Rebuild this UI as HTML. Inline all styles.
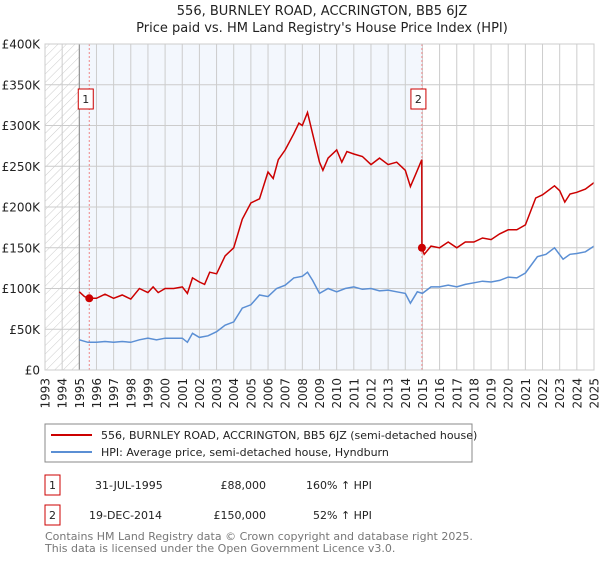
<!DOCTYPE html>
<html><head><meta charset="utf-8"><style>
body{margin:0;background:#fff;font-family:"Liberation Sans","DejaVu Sans",sans-serif;}
svg text{font-family:"DejaVu Sans","Liberation Sans",sans-serif;}
</style></head><body>
<svg id="c" width="600" height="560" xmlns="http://www.w3.org/2000/svg">
<defs><pattern id="h" width="6" height="6" patternUnits="userSpaceOnUse" patternTransform="rotate(45)"><line x1="0" y1="0" x2="0" y2="6" stroke="#ccc" stroke-width="1"/></pattern></defs>
<text x="322" y="15" text-anchor="middle" font-size="13" fill="#222">556, BURNLEY ROAD, ACCRINGTON, BB5 6JZ</text>
<text x="322" y="32" text-anchor="middle" font-size="13" fill="#222">Price paid vs. HM Land Registry's House Price Index (HPI)</text>
<g id="plot"></g>
<rect x="45" y="424" width="427" height="38" fill="#fff" stroke="#888"/>
<line x1="51" y1="435" x2="92" y2="435" stroke="#cc0000" stroke-width="2"/>
<text x="101" y="439" font-size="11" fill="#222">556, BURNLEY ROAD, ACCRINGTON, BB5 6JZ (semi-detached house)</text>
<line x1="51" y1="452" x2="92" y2="452" stroke="#5b8fd4" stroke-width="2"/>
<text x="101" y="456" font-size="11" fill="#222">HPI: Average price, semi-detached house, Hyndburn</text>
<g font-size="11" fill="#222">
<rect x="45" y="475" width="15" height="20" fill="#fff" stroke="#cc0000"/>
<text x="52.5" y="489" text-anchor="middle">1</text>
<text x="95" y="489">31-JUL-1995</text>
<text x="266" y="489" text-anchor="end">£88,000</text>
<text x="306" y="489">160% ↑ HPI</text>
<rect x="45" y="505" width="15" height="20" fill="#fff" stroke="#cc0000"/>
<text x="52.5" y="519" text-anchor="middle">2</text>
<text x="89" y="519">19-DEC-2014</text>
<text x="266" y="519" text-anchor="end">£150,000</text>
<text x="313" y="519">52% ↑ HPI</text>
</g>
<text x="45" y="540" font-size="11" fill="#777">Contains HM Land Registry data © Crown copyright and database right 2025.</text>
<text x="45" y="552" font-size="11" fill="#777">This data is licensed under the Open Government Licence v3.0.</text>
</svg>
<script>
const yTicks=[0,50,100,150,200,250,300,350,400];
const yTickLabels=["£0","£50K","£100K","£150K","£200K","£250K","£300K","£350K","£400K"];
const xYears=[1993,1994,1995,1996,1997,1998,1999,2000,2001,2002,2003,2004,2005,2006,2007,2008,2009,2010,2011,2012,2013,2014,2015,2016,2017,2018,2019,2020,2021,2022,2023,2024,2025];
const hpiDates=[1995.0,1995.5,1996,1996.5,1997,1997.5,1998,1998.5,1999,1999.5,2000,2000.5,2001,2001.3,2001.6,2002,2002.5,2003,2003.5,2004,2004.5,2005,2005.5,2006,2006.5,2007,2007.5,2008,2008.3,2008.6,2009,2009.5,2010,2010.5,2011,2011.5,2012,2012.5,2013,2013.5,2014,2014.3,2014.7,2015,2015.5,2016,2016.5,2017,2017.5,2018,2018.5,2019,2019.5,2020,2020.5,2021,2021.7,2022.2,2022.7,2023.2,2023.6,2024,2024.5,2025];
const hpiValues=[37,34,34,35,34,35,34,37,39,37,39,39,39,34,45,40,42,47,55,59,76,80,92,90,100,104,113,115,120,110,94,100,96,100,102,99,100,97,98,96,94,82,96,94,102,102,104,102,105,107,109,108,110,114,113,119,139,142,150,136,142,143,145,152];
const priceDates=[1995.0,1995.3,1995.58,1996,1996.5,1997,1997.5,1998,1998.5,1999,1999.3,1999.6,2000,2000.5,2001,2001.3,2001.6,2002,2002.3,2002.6,2003,2003.5,2004,2004.5,2005,2005.5,2006,2006.3,2006.6,2007,2007.5,2007.8,2008,2008.3,2008.6,2009,2009.2,2009.5,2010,2010.3,2010.6,2011,2011.5,2012,2012.5,2013,2013.5,2014,2014.3,2014.6,2014.96,2014.97,2015.1,2015.5,2016,2016.5,2017,2017.5,2018,2018.5,2019,2019.5,2020,2020.5,2021,2021.6,2022,2022.7,2023,2023.3,2023.6,2024,2024.5,2025];
const priceValues=[96,90,88,88,93,88,92,87,100,95,102,95,100,100,102,94,113,108,105,120,118,140,150,185,205,210,243,235,258,270,290,303,300,316,290,255,245,260,270,255,268,265,262,252,260,252,255,245,225,240,258,150,142,152,150,157,150,157,157,162,160,167,172,172,178,211,215,226,220,206,216,218,222,230];
const saleDates=[1995.58,2014.97];
const salePrices=[88,150];
const saleLabels=["1","2"];

const NS="http://www.w3.org/2000/svg";
const X0=45,X1=594,Y0=370,Y1=44;
const x=d=>X0+(d-1993)/(2025-1993)*(X1-X0);
const y=v=>Y0-v/400*(Y0-Y1);
const g=document.getElementById('plot');
function mk(t,a){const e=document.createElementNS(NS,t);for(const k in a)e.setAttribute(k,a[k]);g.appendChild(e);return e;}
let e;
e=mk('rect',{x:X0,y:Y1,width:X1-X0,height:Y0-Y1,fill:'#fff'});


e=mk('rect',{x:x(1995),y:Y1,width:x(2015)-x(1995),height:Y0-Y1,fill:'#eef3fc',opacity:0.7});


e=mk('rect',{x:X0,y:Y1,width:x(1995)-X0,height:Y0-Y1,fill:'url(#h)'});


xYears.forEach(yr=>{
 e=mk('line',{x1:x(yr),x2:x(yr),y1:Y1,y2:Y0,stroke:'#ccc','stroke-width':1});
 
 
 e=mk('text',{x:0,y:0,'font-size':12,fill:'#222','text-anchor':'end',transform:`translate(${x(yr)+4.5},${Y0+8}) rotate(-90)`});
 e.textContent=yr;
 
 
});
yTicks.forEach((v,i)=>{
 e=mk('line',{x1:X0,x2:X1,y1:y(v),y2:y(v),stroke:'#ccc','stroke-width':1});
 
 
 e=mk('text',{x:X0-5,y:y(v)+4.5,'font-size':12,fill:'#222','text-anchor':'end'});
 e.textContent=yTickLabels[i];
 
 
});
e=mk('line',{x1:x(1995),x2:x(1995),y1:Y1,y2:Y0,stroke:'#888','stroke-width':1});


saleDates.forEach((d,i)=>{
 e=mk('line',{x1:x(d),x2:x(d),y1:Y1,y2:Y0,stroke:'#e88','stroke-width':1,'stroke-dasharray':'2,2'});
 
 
});
const pts=(ds,vs)=>ds.map((d,i)=>x(d).toFixed(1)+','+y(vs[i]).toFixed(1)).join(' ');
e=mk('polyline',{points:pts(hpiDates,hpiValues),fill:'none',stroke:'#5b8fd4','stroke-width':1.5});


e=mk('polyline',{points:pts(priceDates,priceValues),fill:'none',stroke:'#cc0000','stroke-width':1.5});


saleDates.forEach((d,i)=>{
 e=mk('circle',{cx:x(d),cy:y(salePrices[i]),r:4,fill:'#cc0000'});
 
 
 const bx=x(d)-3.5-7.5;
 e=mk('rect',{x:bx,y:89,width:15,height:20,fill:'#fff',stroke:'#cc0000'});
 
 
 e=mk('text',{x:bx+7.5,y:103,'font-size':11,fill:'#222','text-anchor':'middle'});
 e.textContent=saleLabels[i];
 
 
});
e=mk('rect',{x:X0,y:Y1,width:X1-X0,height:Y0-Y1,fill:'none',stroke:'#ccc'});


</script>
</body></html>
